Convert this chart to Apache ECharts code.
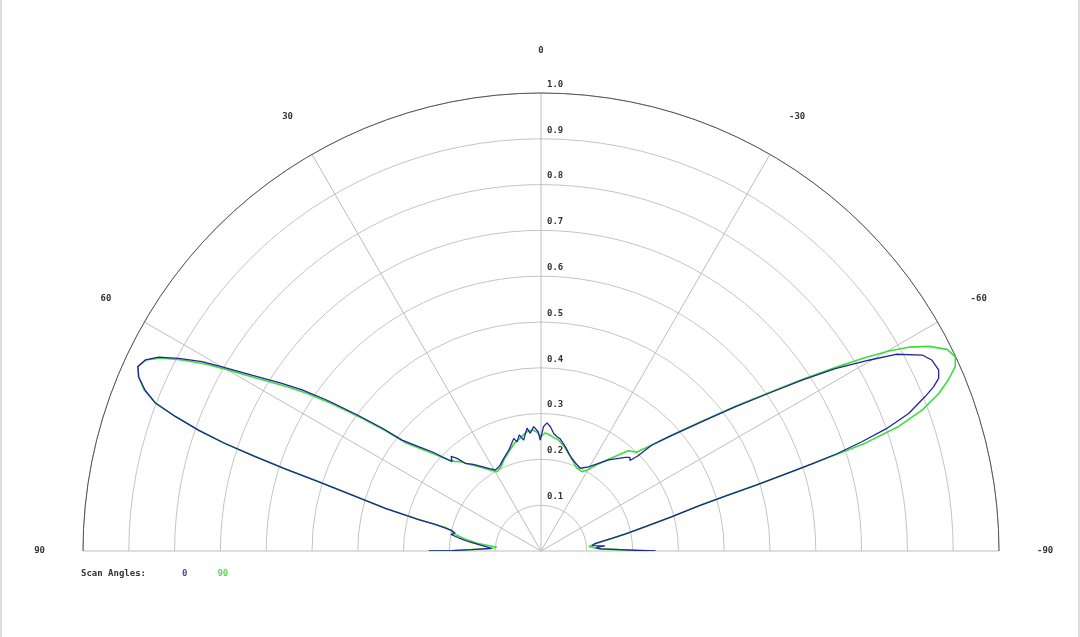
<!DOCTYPE html>
<html>
<head>
<meta charset="utf-8">
<title>Scan Angles</title>
<script src="https://cdn.jsdelivr.net/npm/echarts@6/dist/echarts.min.js"></script>
<style>
    html, body { margin: 0; padding: 0; background: #fff; }
    #patternDiv { width: 1080px; height: 637px; box-sizing: border-box; border-left: 2px solid #ddd; border-right: 2px solid #ddd; }
</style>
</head>
<body>
<div id="patternDiv"></div>
<script>
// scan 0 (blue), angle in degrees, normalised gain
var angles0 = [90, 89.7, 88.8, 87, 85, 82.7, 81, 79.5, 78.2, 77, 76.2, 75.9, 75.6, 74.7, 73.5, 72.7,
    72.2, 71.7, 71.2, 70.6, 69.8, 69, 67.9, 66.6, 65.4, 64.2, 63.1, 62, 60.8, 60, 58.7, 57.1, 56, 54.8,
    53.5, 52.3, 51.4, 49.5, 47.7, 45.9, 44.9, 43.5, 42.2, 40.8, 38, 35, 32, 29.4, 27, 25.3, 21.9, 17.7,
    13.6, 12.4, 10.6, 8.9, 6.5, 5.2, 3.4, 1.4, 0.4, -1.2, -2.7, -4.3, -6.2, -8, -9.8, -13.1, -15.8, -18.5,
    -22.7, -25.4, -29.5, -33.3, -36.6, -40, -42, -43.5, -44.5, -45.5, -46.3, -48.2, -51.2, -53.4, -55.3,
    -56.8, -58.2, -59.8, -61, -62.8, -64, -65.5, -66.5, -67.3, -68.1, -69.5, -70.5, -71.2, -71.8, -72.2,
    -72.6, -73, -73.4, -74, -75.3, -76.9, -78.5, -79.9, -81.9, -84, -85.5, -86.5, -88, -89, -89.6, -90];
var gain0 = [0.245, 0.194, 0.151, 0.108, 0.107, 0.159, 0.181, 0.2, 0.192, 0.2, 0.205, 0.24, 0.276, 0.352, 0.43, 0.508,
    0.588, 0.66, 0.73, 0.79, 0.851, 0.902, 0.933, 0.957, 0.968, 0.959, 0.936, 0.896, 0.848, 0.804, 0.739, 0.674, 0.629, 0.57,
    0.5, 0.44, 0.388, 0.35, 0.322, 0.291, 0.275, 0.285, 0.273, 0.253, 0.24, 0.225, 0.212, 0.203, 0.205, 0.208, 0.218, 0.231,
    0.253, 0.244, 0.258, 0.245, 0.27, 0.258, 0.272, 0.261, 0.242, 0.272, 0.28, 0.272, 0.258, 0.252, 0.248, 0.234, 0.222, 0.213,
    0.204, 0.2, 0.211, 0.229, 0.248, 0.264, 0.275, 0.282, 0.277, 0.295, 0.335, 0.374, 0.451, 0.528, 0.605,
    0.681, 0.756, 0.828, 0.886, 0.936, 0.95, 0.954, 0.947, 0.929, 0.904, 0.857, 0.8, 0.74, 0.68, 0.62,
    0.55, 0.49, 0.42, 0.36, 0.296, 0.234, 0.19, 0.157, 0.12, 0.112, 0.14, 0.12, 0.13, 0.17, 0.21, 0.25];

// scan 90 (green)
var angles90 = [90, 89.7, 88.8, 87.2, 85.2, 83, 81, 79, 77, 76.2, 75.9, 75.6, 74.7, 73.5, 72.7, 72.2, 71.7,
    71.2, 70.6, 69.8, 69, 67.9, 66.6, 65.4, 64.2, 63.1, 62, 60.8, 60, 58.7, 57.1, 56, 54.8, 53.5, 52.3,
    51.4, 49.5, 47.7, 45.9, 44, 42, 40, 35, 32, 29, 26, 22, 18, 14, 10, 7, 4, 2, 0, -2, -4, -6, -9, -13,
    -16, -19, -23, -27.3, -30, -33, -36.6, -41, -44, -46.3, -48.2, -51.2, -53.4, -55.3, -56.8, -58.2, -59.2,
    -60.1, -61, -62.2, -63.6, -64.9, -66, -67.2, -68.4, -69.7, -70.8, -71.6, -72, -72.4, -72.8, -73.3, -74,
    -75.3, -76.9, -78.5, -79.9, -81.9, -84.5, -86.5, -88, -89, -89.6, -90];
var gain90 = [0.245, 0.19, 0.15, 0.11, 0.097, 0.14, 0.17, 0.19, 0.205, 0.215, 0.24, 0.276, 0.352, 0.43, 0.508, 0.588, 0.66,
    0.73, 0.79, 0.851, 0.902, 0.935, 0.958, 0.968, 0.958, 0.932, 0.888, 0.836, 0.792, 0.726, 0.66, 0.615, 0.557, 0.49, 0.43,
    0.38, 0.342, 0.315, 0.288, 0.272, 0.262, 0.248, 0.222, 0.208, 0.198, 0.202, 0.215, 0.228, 0.242, 0.252, 0.262, 0.265, 0.26, 0.25, 0.258, 0.255, 0.25, 0.245, 0.232,
    0.22, 0.21, 0.198, 0.195, 0.205, 0.225, 0.25, 0.29, 0.3, 0.335, 0.376, 0.454, 0.532, 0.61, 0.688, 0.765, 0.825,
    0.876, 0.918, 0.958, 0.99, 0.999, 0.99, 0.965, 0.934, 0.887, 0.827, 0.746, 0.66, 0.58, 0.51, 0.43, 0.36,
    0.296, 0.234, 0.19, 0.157, 0.125, 0.105, 0.115, 0.13, 0.17, 0.21, 0.25];

var scanNames = ['0', '90'];
var scanColors = ['#24249c', '#3fdc3f'];

var monoFont = 'DejaVu Sans Mono';

function toPoints(gain, angles) {
    return gain.map(function (g, i) {
        return [g, angles[i]];
    });
}

function drawPattern() {
    var myChart = echarts.init(document.getElementById('patternDiv'));
    myChart.setOption({
        animation: false,
        title: {
            text: 'Scan Angles:',
            left: 79,
            top: 569,
            padding: 0,
            textStyle: { fontFamily: monoFont, fontSize: 9, fontWeight: 'bold', color: '#333' }
        },
        legend: {
            left: 175,
            top: 569,
            padding: 0,
            itemWidth: 0,
            itemHeight: 0,
            itemGap: 25,
            icon: 'none',
            textStyle: { fontFamily: monoFont, fontSize: 9, fontWeight: 'bold' },
            data: [
                { name: scanNames[0], textStyle: { color: '#4848a8' } },
                { name: scanNames[1], textStyle: { color: '#5ad85a' } }
            ]
        },
        polar: [
            { center: [539, 551], radius: 458 },
            { center: [539, 551], radius: 458 }
        ],
        angleAxis: [
            {
                polarIndex: 0,
                type: 'value',
                min: -90,
                max: 90,
                interval: 30,
                startAngle: 0,
                endAngle: 180,
                clockwise: false,
                axisLine: { lineStyle: { color: '#555', width: 1 } },
                axisTick: { show: false },
                axisLabel: { margin: 38, fontFamily: monoFont, fontSize: 9, fontWeight: 'bold', color: '#333' },
                splitLine: { lineStyle: { color: '#bdbdbd', width: 1 } }
            },
            {
                polarIndex: 1,
                type: 'value',
                min: 0,
                max: 360,
                startAngle: 90,
                show: false
            }
        ],
        radiusAxis: [
            {
                polarIndex: 0,
                min: 0,
                max: 1,
                interval: 0.1,
                axisLine: { show: false },
                axisTick: { show: false },
                axisLabel: { show: false },
                splitLine: { lineStyle: { color: '#c4c4c4', width: 1 } }
            },
            {
                polarIndex: 1,
                min: 0,
                max: 1,
                interval: 0.1,
                axisLine: { show: false },
                axisTick: { show: false },
                splitLine: { show: false },
                axisLabel: {
                    margin: -6,
                    align: 'left',
                    verticalAlign: 'bottom',
                    padding: [0, 0, 4, 0],
                    fontFamily: monoFont,
                    fontSize: 9,
                    fontWeight: 'bold',
                    color: '#333',
                    formatter: function (v) {
                        return v === 0 ? '' : v.toFixed(1);
                    }
                }
            }
        ],
        series: [
            {
                name: scanNames[1],
                type: 'line',
                coordinateSystem: 'polar',
                polarIndex: 0,
                showSymbol: false,
                color: scanColors[1],
                lineStyle: { width: 1.6, color: scanColors[1] },
                data: toPoints(gain90, angles90)
            },
            {
                name: scanNames[0],
                type: 'line',
                coordinateSystem: 'polar',
                polarIndex: 0,
                showSymbol: false,
                color: scanColors[0],
                lineStyle: { width: 1.3, color: scanColors[0] },
                data: toPoints(gain0, angles0)
            }
        ]
    });
}

drawPattern();
</script>
</body>
</html>
